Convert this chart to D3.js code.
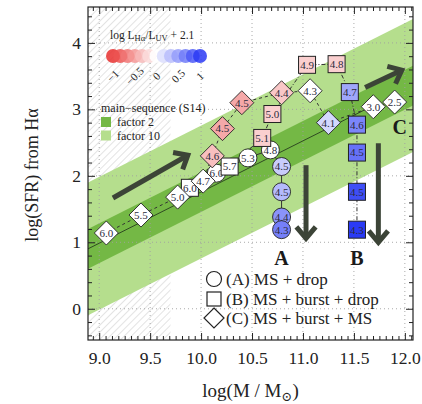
<!DOCTYPE html>
<html><head><meta charset="utf-8">
<script src="https://cdn.jsdelivr.net/npm/d3@7/dist/d3.min.js"></script>
<style>
body{margin:0;background:#fff}
svg{display:block}
text{font-family:"Liberation Serif","DejaVu Serif",serif;fill:#222}
</style>
</head><body>
<svg id="c" width="422" height="404"></svg>
<script>
// ---- data ----
// (A) MS + drop : circles
const labelsA = ["6.0","5.3","4.8","4.5","4.5","4.4","4.3"];
const xA = [10.15,10.46,10.68,10.79,10.79,10.79,10.79];
const yA = [2.04,2.27,2.39,2.14,1.76,1.38,1.19];
const cA = [0,0,0,0.26,0.35,0.55,0.65];
// (B) MS + burst + drop : squares
const labelsB = ["6.0","5.7","5.1","5.0","4.9","4.8","4.7","4.6","4.5","4.5","4.3"];
const xB = [9.89,10.28,10.60,10.70,11.04,11.33,11.46,11.53,11.53,11.53,11.53];
const yB = [1.82,2.14,2.57,2.93,3.67,3.68,3.26,2.77,2.35,1.76,1.19];
const cB = [0,0,-0.23,-0.23,-0.23,-0.23,0.45,0.62,0.72,0.9,1.0];
// (C) MS + burst + MS : diamonds
const labelsC = ["6.0","5.5","5.0","4.7","4.6","4.5","4.5","4.4","4.3","4.1","3.0","2.5"];
const xC = [9.07,9.41,9.77,10.02,10.11,10.21,10.40,10.79,11.07,11.25,11.69,11.90];
const yC = [1.14,1.41,1.68,1.92,2.30,2.71,3.10,3.25,3.28,2.80,3.04,3.11];
const cC = [0,0,0,0,-0.31,-0.42,-0.42,-0.27,0,0.2,0,0];
// main sequence (S14): centre line and half widths (dex)
const msAt10 = 1.756, msSlope = 0.77;
const msBands = [1.0, 0.3];          // factor 10, factor 2
const msLabels = ["factor 2","factor 10"];
// excluded (hatched) mass range
const hatchRange = [8.89, 9.70];
// tick values
const xMajor = [9.0,9.5,10.0,10.5,11.0,11.5,12.0];
const yMajor = [0,1,2,3,4];
const cbTicks = [-1,-0.5,0,0.5,1];
const cbTickLabels = ["\u22121","\u22120.5","0","0.5","1"];
// big arrows: [x,y] in data units
const arrowsFrom = [[9.135,1.666],[11.61,3.33],[11.03,2.16],[11.74,2.49]];
const arrowsTo   = [[9.87,2.31],[11.97,3.59],[11.03,1.06],[11.74,1.0]];
const letters = ["A","B","C"];
const letterX = [10.79,11.53,11.95];
const letterY = [0.77,0.77,2.73];
const legendText = ["(A) MS + drop","(B) MS + burst + drop","(C) MS + burst + MS"];

// ---- setup ----
const svg = d3.select("#c");
const L=88,R=413,T=7,B=340;
const x = d3.scaleLinear().domain([8.89,12.08]).range([L,R]);
const y = d3.scaleLinear().domain([-0.47,4.54]).range([B,T]);
const col = d3.scaleLinear().domain([-1,0,1]).range(["#e8302f","#ffffff","#2a3af5"]);
const ms = v => msAt10 + msSlope*(v-10);

const defs = svg.append("defs");
defs.append("clipPath").attr("id","clip").append("rect")
  .attr("x",L).attr("y",T).attr("width",R-L).attr("height",B-T);
const pat = defs.append("pattern").attr("id","hatch").attr("patternUnits","userSpaceOnUse")
  .attr("width",5).attr("height",5).attr("patternTransform","rotate(45)");
pat.append("rect").attr("width",5).attr("height",5).attr("fill","#fff");
pat.append("line").attr("x1",0).attr("y1",0).attr("x2",0).attr("y2",5)
  .attr("stroke","#d4d4d4").attr("stroke-width",1.3);

const plot = svg.append("g").attr("clip-path","url(#clip)");
plot.append("rect").attr("x",x(hatchRange[0])).attr("y",T)
  .attr("width",x(hatchRange[1])-x(hatchRange[0])).attr("height",B-T).attr("fill","url(#hatch)");

const bandCol = ["#b5de8d","#74b845"];
const x0=8.85,x1=12.2;
msBands.forEach((h,i)=>{
  const pts=[[x0,ms(x0)+h],[x1,ms(x1)+h],[x1,ms(x1)-h],[x0,ms(x0)-h]];
  plot.append("path").attr("d","M"+pts.map(p=>[x(p[0]),y(p[1])].join(",")).join("L")+"Z")
    .attr("fill",bandCol[i]);
});
// grid
xMajor.forEach(v=>plot.append("line").attr("x1",x(v)).attr("x2",x(v)).attr("y1",T).attr("y2",B)
  .attr("stroke","#a0a0a0").attr("stroke-width",0.9).attr("stroke-dasharray","1,3"));
yMajor.forEach(v=>plot.append("line").attr("y1",y(v)).attr("y2",y(v)).attr("x1",L).attr("x2",R)
  .attr("stroke","#a0a0a0").attr("stroke-width",0.9).attr("stroke-dasharray","1,3"));
// MS centre line
plot.append("line").attr("x1",x(8.85)).attr("y1",y(ms(8.85))).attr("x2",x(11.75)).attr("y2",y(ms(11.75)))
  .attr("stroke","#2f4a22").attr("stroke-width",1);

// track lines
const line = d3.line().x(d=>x(d[0])).y(d=>y(d[1]));
const ptsA = xA.map((v,i)=>[v,yA[i]]), ptsB = xB.map((v,i)=>[v,yB[i]]), ptsC = xC.map((v,i)=>[v,yC[i]]);
plot.append("path").attr("d",line(ptsC)).attr("fill","none").attr("stroke","#333").attr("stroke-width",1).attr("stroke-dasharray","3,3");
plot.append("path").attr("d",line(ptsB)).attr("fill","none").attr("stroke","#333").attr("stroke-width",1).attr("stroke-dasharray","4,2,1,2");
plot.append("path").attr("d",line(ptsA)).attr("fill","none").attr("stroke","#333").attr("stroke-width",1);

// big arrows
const arrowCol="#3c4437";
arrowsFrom.forEach((f,i)=>{
  const t=arrowsTo[i];
  const X1=x(f[0]),Y1=y(f[1]),X2=x(t[0]),Y2=y(t[1]);
  const a=Math.atan2(Y2-Y1,X2-X1), hl=15, ha=0.7;
  plot.append("line").attr("x1",X1).attr("y1",Y1).attr("x2",X2-2*Math.cos(a)).attr("y2",Y2-2*Math.sin(a))
    .attr("stroke",arrowCol).attr("stroke-width",5);
  plot.append("path").attr("d",`M${X2-hl*Math.cos(a-ha)},${Y2-hl*Math.sin(a-ha)}L${X2},${Y2}L${X2-hl*Math.cos(a+ha)},${Y2-hl*Math.sin(a+ha)}`)
    .attr("fill","none").attr("stroke",arrowCol).attr("stroke-width",5).attr("stroke-linejoin","miter");
});

// markers
const lab = (g,s)=>g.append("text").attr("text-anchor","middle").attr("dy","0.35em")
  .attr("font-size",11).style("fill","#2b2b3c").text(s);
ptsA.forEach((p,i)=>{
  const g=plot.append("g").attr("transform",`translate(${x(p[0])},${y(p[1])})`);
  g.append("circle").attr("r",9).attr("fill",col(cA[i])).attr("stroke","#222").attr("stroke-width",0.9);
  lab(g,labelsA[i]);
});
ptsB.forEach((p,i)=>{
  const g=plot.append("g").attr("transform",`translate(${x(p[0])},${y(p[1])})`);
  g.append("rect").attr("x",-8.5).attr("y",-8.5).attr("width",17).attr("height",17)
    .attr("fill",col(cB[i])).attr("stroke","#222").attr("stroke-width",1);
  lab(g,labelsB[i]);
});
ptsC.forEach((p,i)=>{
  const g=plot.append("g").attr("transform",`translate(${x(p[0])},${y(p[1])})`);
  g.append("path").attr("d","M0,-12L12,0L0,12L-12,0Z")
    .attr("fill",col(cC[i])).attr("stroke","#222").attr("stroke-width",0.9);
  lab(g,labelsC[i]);
});
// letters
letters.forEach((s,i)=>plot.append("text").attr("x",x(letterX[i])).attr("y",y(letterY[i]))
  .attr("text-anchor","middle").attr("dy","0.35em").attr("font-size",20).attr("font-weight","bold").style("fill","#1a1a1a").text(s));

// axes
const fmt = d3.format(".1f");
function minor(a,b,s){const r=[];for(let v=a;v<=b+1e-9;v+=s)r.push(+v.toFixed(4));return r;}
const xMinor = minor(8.9375,12.07,0.0625).filter(v=>!xMajor.some(m=>Math.abs(m-v)<1e-6));
const yMinor = minor(-0.4,4.5,0.2).filter(v=>!yMajor.some(m=>Math.abs(m-v)<1e-6));
const axes = svg.append("g");
function ax(gen,tr,vals,size,f,pad){
  const g=axes.append("g").attr("transform",tr).call(gen.tickValues(vals).tickSize(size).tickFormat(f).tickPadding(pad));
  g.select(".domain").remove();
  g.selectAll("line").attr("stroke","#222");
  return g;
}
const xb=ax(d3.axisBottom(x),`translate(0,${B})`,xMajor,-7,fmt,12);
xb.selectAll("text").attr("font-size",17.5).style("fill","#222").attr("font-family","Liberation Serif");
ax(d3.axisBottom(x),`translate(0,${B})`,xMinor,-4,"",0);
ax(d3.axisTop(x),`translate(0,${T})`,xMajor,-7,"",0);
ax(d3.axisTop(x),`translate(0,${T})`,xMinor,-4,"",0);
const yl=ax(d3.axisLeft(y),`translate(${L},0)`,yMajor,-7,d3.format("d"),7);
yl.selectAll("text").attr("font-size",17.5).style("fill","#222").attr("font-family","Liberation Serif");
ax(d3.axisLeft(y),`translate(${L},0)`,yMinor,-4,"",0);
ax(d3.axisRight(y),`translate(${R},0)`,yMajor,-7,"",0);
ax(d3.axisRight(y),`translate(${R},0)`,yMinor,-4,"",0);
svg.append("rect").attr("x",L).attr("y",T).attr("width",R-L).attr("height",B-T)
  .attr("fill","none").attr("stroke","#222").attr("stroke-width",1.2);

// axis labels
const xl = svg.append("text").attr("x",(L+R)/2).attr("y",397).attr("text-anchor","middle").attr("font-size",19);
xl.append("tspan").text("log(M / M");
xl.append("tspan").attr("font-size",13).attr("dy",4).text("\u2299");
xl.append("tspan").attr("dy",-4).text(")");
svg.append("text").attr("transform","translate(38,175) rotate(-90)").attr("text-anchor","middle")
  .attr("font-size",18).text("log(SFR) from H\u03b1");

// colorbar legend
const cbx = d3.scaleLinear().domain([-1,1]).range([113,200]);
const ct = svg.append("text").attr("x",110).attr("y",39).attr("font-size",11.5);
ct.append("tspan").text("log L");
ct.append("tspan").attr("font-size",8.5).attr("dy",2).text("H\u03b1");
ct.append("tspan").attr("dy",-2).text("/L");
ct.append("tspan").attr("font-size",8.5).attr("dy",2).text("UV");
ct.append("tspan").attr("dy",-2).text(" + 2.1");
d3.range(-1,1.0001,1/6).forEach(v=>svg.append("circle").attr("cx",cbx(v)).attr("cy",56).attr("r",7)
  .attr("fill",col(v)).attr("fill-opacity",0.85));
cbTicks.forEach((v,i)=>svg.append("text").attr("transform",`translate(${cbx(v)},76) rotate(-45)`)
  .attr("text-anchor","middle").attr("dy","0.35em").attr("font-size",11).text(cbTickLabels[i]));

// MS legend
svg.append("text").attr("x",101).attr("y",112).attr("font-size",12).text("main\u2212sequence (S14)");
msLabels.forEach((s,i)=>{
  svg.append("rect").attr("x",101).attr("y",117+i*13.5).attr("width",10).attr("height",10).attr("fill",bandCol[1-i]);
  svg.append("text").attr("x",117).attr("y",126+i*13.5).attr("font-size",12).text(s);
});

// symbol legend
const lg = svg.append("g");
const ly=[279,299,318];
lg.append("circle").attr("cx",214).attr("cy",ly[0]).attr("r",7.5).attr("fill","#fff").attr("stroke","#222").attr("stroke-width",1.2);
lg.append("rect").attr("x",207).attr("y",ly[1]-7).attr("width",14).attr("height",14).attr("fill","#fff").attr("stroke","#222").attr("stroke-width",1.2);
lg.append("path").attr("d",`M214,${ly[2]-10}L224,${ly[2]}L214,${ly[2]+10}L204,${ly[2]}Z`).attr("fill","#fff").attr("stroke","#222").attr("stroke-width",1.2);
legendText.forEach((s,i)=>lg.append("text").attr("x",226).attr("y",ly[i]).attr("dy","0.33em").attr("font-size",17).text(s));
</script>
</body></html>
